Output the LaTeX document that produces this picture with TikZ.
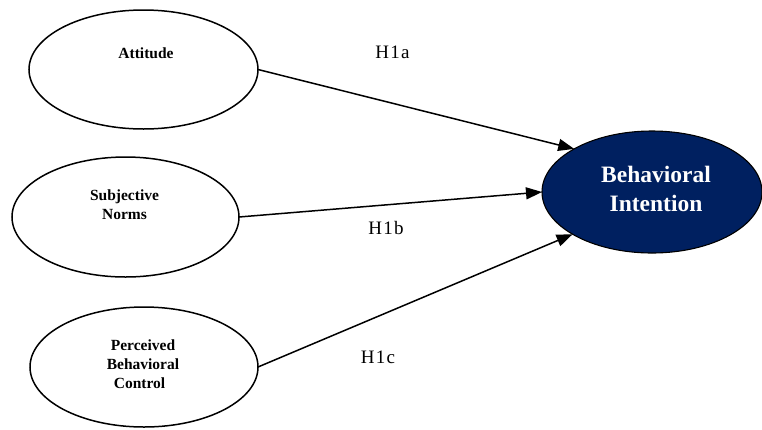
\documentclass[tikz,border=0pt]{standalone}
\usepackage{fontspec}
\setmainfont{Liberation Serif}
\usetikzlibrary{shapes.geometric,arrows.meta}
\definecolor{navy}{HTML}{002060}
\begin{document}
\begin{tikzpicture}[x=1pt,y=-1pt,
  construct/.style={ellipse,draw,line width=1.5pt,inner sep=0pt,outer sep=0pt,fill=white},
  outcome/.style={ellipse,draw,line width=1.1pt,inner sep=0pt,outer sep=0pt,fill=navy},
  lbl/.style={font=\bfseries\fontsize{15.5}{19}\selectfont,align=center,inner sep=0pt},
  biglbl/.style={font=\bfseries\fontsize{23.5}{29}\selectfont,align=center,inner sep=0pt,text=white},
  link/.style={line width=1.5pt,-{Triangle[length=16pt,width=12pt]}},
  hyp/.style={font=\fontsize{19}{21}\selectfont,inner sep=0pt}]
\useasboundingbox (0,0) rectangle (762,429);

% predictor constructs
\node[construct,minimum width=229pt,minimum height=119pt] (att) at (143.5,69.5) {};
\node[construct,minimum width=227pt,minimum height=120pt] (sn) at (125.5,217) {};
\node[construct,minimum width=228pt,minimum height=120pt] (pbc) at (144,367) {};

% outcome construct
\node[outcome,minimum width=220pt,minimum height=122pt] (bi) at (652,192) {};

% construct names
\node[lbl] (attT) at (146,53) {Attitude};
\node[lbl] (snT) at (124.5,205) {Subjective\\Norms};
\node[lbl] (pbcT) at (143,364) {Perceived\\Behavioral\\Control\kern7pt};
\node[biglbl] (biT) at (656,189) {Behavioral\\Intention};

% hypothesised paths
\draw[link] (att.east) -- (bi.151.4);
\draw[link] (sn.east) -- (bi.west);
\draw[link] (pbc.east) -- (bi.208.6);

% path labels
\node[hyp] (h1a) at (392.5,52) {H\kern1.3pt1\kern1.3pt a};
\node[hyp] (h1b) at (386,228) {H\kern1.3pt1\kern1.3pt b};
\node[hyp] (h1c) at (378,357) {H\kern1.3pt1\kern1.3pt c};
\end{tikzpicture}
\end{document}
